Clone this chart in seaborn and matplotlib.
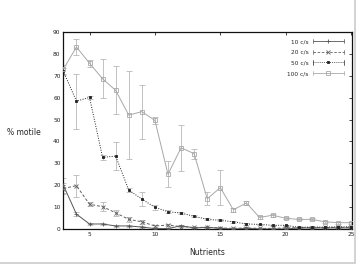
import numpy as np
import pandas as pd
import matplotlib
matplotlib.use("Agg")
import matplotlib.pyplot as plt
import seaborn as sns
from matplotlib.lines import Line2D
from matplotlib.legend_handler import HandlerLine2D

nutrients = list(range(3, 26))
s10 = [20.0, 6.8, 2.3, 2.3, 1.4, 1.4, 0.9, 0.2, 0.2, 1.5, 0.5, 0.8, 0.3, 0.0, 0.3, 0.0, 0.0, 0.0, 0.5, 0.5, 0.5, 0.5, 0.5]
e10 = [3.5, 1.0, 0.5, 0.5, 0.4, 0.4, 0.3, 0.2, 0.2, 0.4, 0.2, 0.3, 0.2, 0.1, 0.2, 0.1, 0.1, 0.1, 0.2, 0.2, 0.2, 0.2, 0.2]
s20 = [18.5, 19.8, 11.3, 10.2, 7.4, 4.4, 3.3, 1.4, 1.8, 1.1, 0.7, 0.8, 0.5, 0.3, 0.5, 0.3, 0.3, 0.5, 0.6, 0.6, 0.7, 0.7, 0.8]
e20 = [2.5, 5.0, 1.0, 2.0, 1.5, 1.0, 0.8, 0.5, 0.5, 0.4, 0.3, 0.3, 0.2, 0.2, 0.2, 0.2, 0.2, 0.2, 0.2, 0.2, 0.2, 0.2, 0.2]
s50 = [72.0, 58.4, 60.1, 32.7, 33.3, 17.8, 13.7, 9.9, 7.9, 7.3, 5.8, 4.4, 4.0, 3.3, 2.3, 2.1, 1.7, 1.7, 0.8, 0.9, 0.9, 1.0, 1.0]
e50 = [1.5, 12.5, 0.8, 1.0, 6.3, 1.0, 3.0, 1.0, 0.8, 0.6, 0.5, 0.5, 0.5, 0.4, 0.3, 0.3, 0.3, 0.3, 0.2, 0.2, 0.2, 0.2, 0.2]
s100 = [73.0, 83.1, 75.7, 68.6, 63.3, 52.0, 53.6, 49.6, 25.0, 37.1, 34.4, 13.8, 18.9, 8.8, 11.9, 5.3, 6.3, 4.9, 4.4, 4.4, 3.3, 2.9, 2.9]
e100 = [2.0, 3.5, 1.5, 9.0, 11.0, 20.0, 12.3, 1.5, 6.0, 10.5, 2.3, 3.0, 8.0, 0.8, 0.8, 0.6, 0.6, 0.5, 0.5, 0.5, 0.4, 0.4, 0.4]

labels = ["10 c/s", "20 c/s", "50 c/s", "100 c/s"]
vals = [s10, s20, s50, s100]
errs = [e10, e20, e50, e100]

colors = ["#555555", "#606060", "#222222", "#a8a8a8"]
dashes = [(None, None), (3, 2), (1, 1.5), (None, None)]
markers = ["+", "x", "s", "s"]
msizes = [2.6, 2.2, 1.6, 3.0]
mfcs = ["#555555", "#606060", "#222222", "none"]

df = pd.DataFrame({
    "Nutrients": nutrients * 4,
    "motile": sum(vals, []),
    "series": sum([[l] * len(nutrients) for l in labels], []),
})

sns.set_style("white")
fig = plt.figure(figsize=(3.56, 2.66), dpi=100)
ax = fig.add_axes([0.178, 0.139, 0.81, 0.741])

for i, lab in enumerate(labels):
    ax.errorbar(nutrients, vals[i], yerr=errs[i], fmt="none", ecolor="#b8b8b8",
                elinewidth=0.6, capsize=2.0, capthick=0.6, zorder=1)

for i, lab in enumerate(labels):
    sub = df[df["series"] == lab]
    sns.lineplot(data=sub, x="Nutrients", y="motile", ax=ax, color=colors[i],
                 linewidth=0.7, marker=markers[i], markersize=msizes[i],
                 markerfacecolor=mfcs[i], markeredgecolor=colors[i],
                 markeredgewidth=0.6, legend=False, zorder=3)
    ln = ax.get_lines()[-1]
    if dashes[i][0] is not None:
        ln.set_dashes(dashes[i])

ax.set_xlim(3, 25.05)
ax.set_ylim(0, 90)
ax.set_xticks([5, 10, 15, 20, 25])
ax.set_yticks(range(0, 91, 10))
ax.tick_params(axis="both", direction="in", length=2.5, width=0.6, labelsize=4.2,
               pad=2, top=True, right=True, labelcolor="#222222")
for s in ax.spines.values():
    s.set_linewidth(0.9)
    s.set_color("#111111")
    s.set_visible(True)
ax.set_xlabel("Nutrients", fontsize=5.5, labelpad=8)
ax.set_ylabel("% motile", fontsize=5.5, rotation=0, ha="left", va="center")
ax.yaxis.set_label_coords(-0.197, 0.49)
ax.grid(False)


class CapHandler(HandlerLine2D):
    def create_artists(self, legend, orig_handle, xdescent, ydescent, width,
                       height, fontsize, trans):
        arts = super().create_artists(legend, orig_handle, xdescent, ydescent,
                                      width, height, fontsize, trans)
        y = height / 2 - ydescent
        for xx in (-xdescent, width - xdescent):
            cap = Line2D([xx, xx], [y - 1.6, y + 1.6], color=orig_handle.get_color(),
                         linewidth=0.5, transform=trans)
            arts.append(cap)
        return arts


handles = []
for i, lab in enumerate(labels):
    h = Line2D([0], [0], color=colors[i], linewidth=0.6, marker=markers[i],
               markersize=msizes[i], markerfacecolor=mfcs[i],
               markeredgecolor=colors[i], markeredgewidth=0.6)
    if dashes[i][0] is not None:
        h.set_dashes(dashes[i])
    handles.append(h)
leg = ax.legend(handles, labels, loc="upper right", bbox_to_anchor=(0.99, 0.99),
                frameon=False, fontsize=4.2, markerfirst=False, handlelength=5.2,
                handletextpad=0.8, labelspacing=0.95,
                handler_map={Line2D: CapHandler()})

# figure frame (right and bottom light border)
fig.add_artist(Line2D([0.997, 0.997], [0.012, 1.0], transform=fig.transFigure,
                      color="#cccccc", linewidth=1.2))
fig.add_artist(Line2D([0.0, 0.997], [0.012, 0.012], transform=fig.transFigure,
                      color="#cccccc", linewidth=1.2))

fig.savefig("out.png", dpi=100)
